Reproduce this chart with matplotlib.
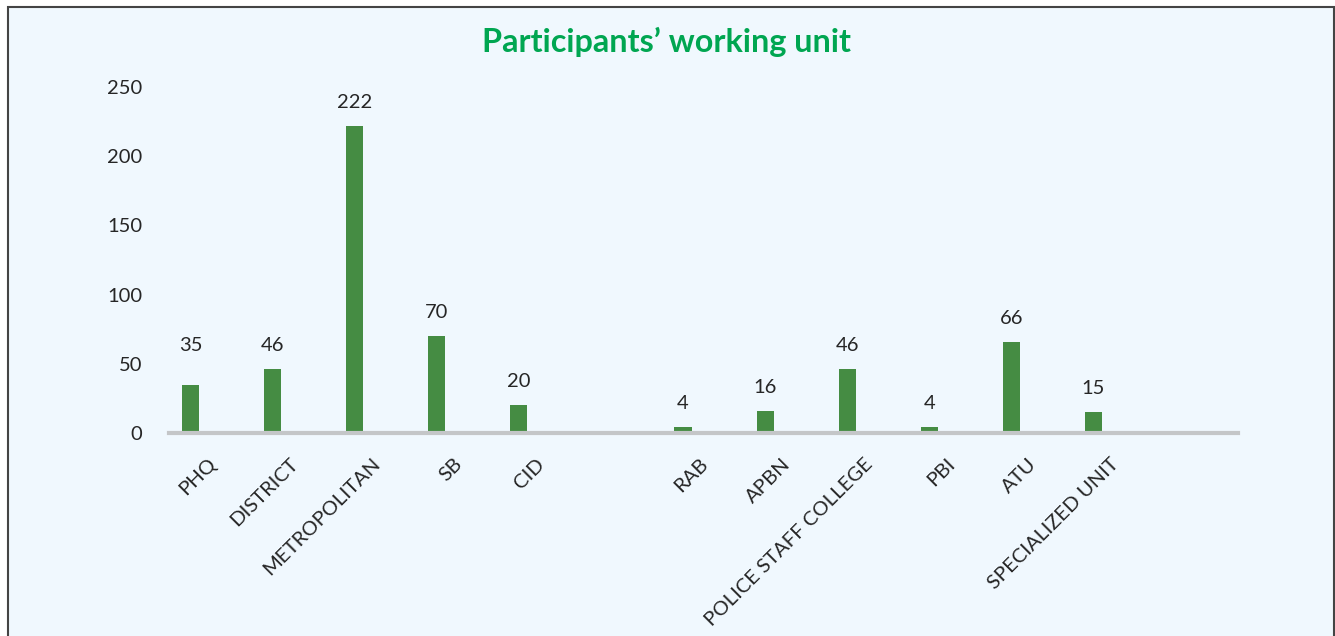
import numpy as np
import matplotlib.pyplot as plt
from matplotlib.patches import Rectangle

# categories as laid out on the sheet, "" are the blank rows
categories = ["PHQ", "DISTRICT", "METROPOLITAN", "SB", "CID", "",
              "RAB", "APBN", "POLICE STAFF COLLEGE", "PBI", "ATU",
              "SPECIALIZED UNIT", ""]
participants = [35, 46, 222, 70, 20, None,
                4, 16, 46, 4, 66, 15, None]
yticks = [0, 50, 100, 150, 200, 250]
title = "Participants\u2019 working unit"

bar_color = "#458c43"
title_color = "#00a651"
bg_color = "#f0f8fe"
text_color = "#262626"

plt.rcParams['font.family'] = ['Lato', 'DejaVu Sans']

fig = plt.figure(figsize=(13.35, 6.36), dpi=100)
fig.patch.set_facecolor("white")
# chart area frame
frame = Rectangle((8 / 1335, -0.05), 1326 / 1335, 1.05 - 7 / 636,
                  transform=fig.transFigure, facecolor=bg_color,
                  edgecolor="#444444", linewidth=1.5, zorder=-5)
fig.patches.append(frame)

ax = fig.add_axes([169 / 1335, 1 - 433 / 636, 1069 / 1335, 346 / 636])
ax.set_facecolor("none")
ax.set_zorder(2)

x = np.arange(len(categories))
shown = [i for i, v in enumerate(participants) if v is not None]
vals = [participants[i] for i in shown]
ax.bar(x[shown], vals, width=0.21, color=bar_color, zorder=2)

# labels above bars; PHQ label sits a bit higher in the original
extra_lift = {"PHQ": 11}
for i, v in zip(shown, vals):
    ax.annotate(str(v), (x[i], v), xytext=(0, 13 + extra_lift.get(categories[i], 0)),
                textcoords="offset points", ha="center", va="baseline",
                fontsize=14.5, color=text_color)

ax.set_xlim(-0.262, 12.76)
ax.set_ylim(0, 250)
ax.set_yticks(yticks)
ax.set_yticklabels([str(t) for t in yticks], fontsize=14.5, color=text_color)

tick_pos = x + 0.2
ax.set_xticks(tick_pos)
ax.set_xticklabels(categories, rotation=45, ha="right", va="top",
                   rotation_mode="anchor", fontsize=14.6, color=text_color)
ax.tick_params(axis="x", length=0, pad=16)
ax.tick_params(axis="y", length=0, pad=19)

for s in ["top", "right", "left"]:
    ax.spines[s].set_visible(False)
ax.spines["bottom"].set_color("#c4c6c8")
ax.spines["bottom"].set_linewidth(3)
ax.spines["bottom"].set_zorder(3)

fig.text(667 / 1335, 1 - 42 / 636, title, ha="center", va="center",
         fontsize=23.3, fontweight="bold", color=title_color, zorder=3)

fig.savefig("out.png", dpi=100, facecolor=fig.get_facecolor())
